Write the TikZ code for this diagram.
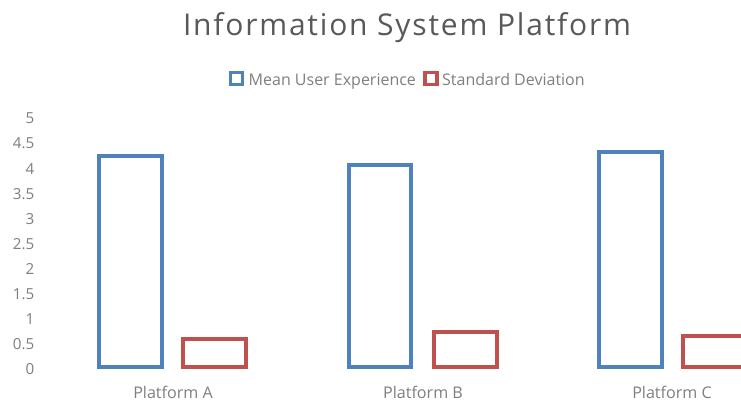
\documentclass[tikz,border=0pt]{standalone}
\usepackage{fontspec}
\setmainfont{Open Sans}
\newfontfamily\titlefont[LetterSpace=6]{Open Sans}
\definecolor{barblue}{HTML}{4F81BD}
\definecolor{barred}{HTML}{C0504D}
\definecolor{titlegray}{HTML}{595959}
\definecolor{labgray}{HTML}{7F7F7F}
\begin{document}
\begin{tikzpicture}[x=1pt,y=-1pt,
  tick/.style={anchor=east,text=labgray,font=\fontsize{15.2}{16}\selectfont,inner sep=0pt},
  cat/.style={anchor=base,text=labgray,font=\fontsize{16.1}{17}\selectfont,inner sep=0pt},
  legtext/.style={anchor=base west,text=labgray,font=\fontsize{16}{17}\selectfont,inner sep=0pt},
  bluebar/.style={draw=barblue,line width=4pt,fill=white},
  redbar/.style={draw=barred,line width=4pt,fill=white},
  legbox/.style={line width=3.5pt,fill=white,minimum size=12pt,inner sep=0pt}]
\clip (0,0) rectangle (741,403);
\fill[white] (0,0) rectangle (741,403);
% title
\node[anchor=base,text=titlegray,font=\titlefont\fontsize{30}{33}\selectfont,inner sep=0pt] (title) at (407,35.7) {Information System Platform};
% legend
\node[legbox,draw=barblue] (legA) at (236.7,78.5) {};
\node[legtext] (legAt) at (248.5,85.5) {Mean User Experience};
\node[legbox,draw=barred] (legB) at (430.8,78.3) {};
\node[legtext] (legBt) at (442,85.5) {Standard Deviation};
% y ticks
\foreach \v/\t [count=\i] in {0/0,0.5/0.5,1/1,1.5/1.5,2/2,2.5/2.5,3/3,3.5/3.5,4/4,4.5/4.5,5/5}
  \node[tick] (tk\i) at (34.5,{369.5-\v*50.2}) {\t};
% bars
\draw[bluebar] (99,367) rectangle (162,156.3);
\draw[redbar] (182.7,367) rectangle (246.3,339);
\draw[bluebar] (348.7,367) rectangle (411.3,164.7);
\draw[redbar] (433.7,367) rectangle (497,332);
\draw[bluebar] (598.5,367) rectangle (661.5,152.3);
\draw[redbar] (683,367) rectangle (746,335.7);
% categories
\node[cat] (catA) at (173,398.3) {Platform A};
\node[cat] (catB) at (423,398.3) {Platform B};
\node[cat] (catC) at (672,398.3) {Platform C};
\end{tikzpicture}
\end{document}
